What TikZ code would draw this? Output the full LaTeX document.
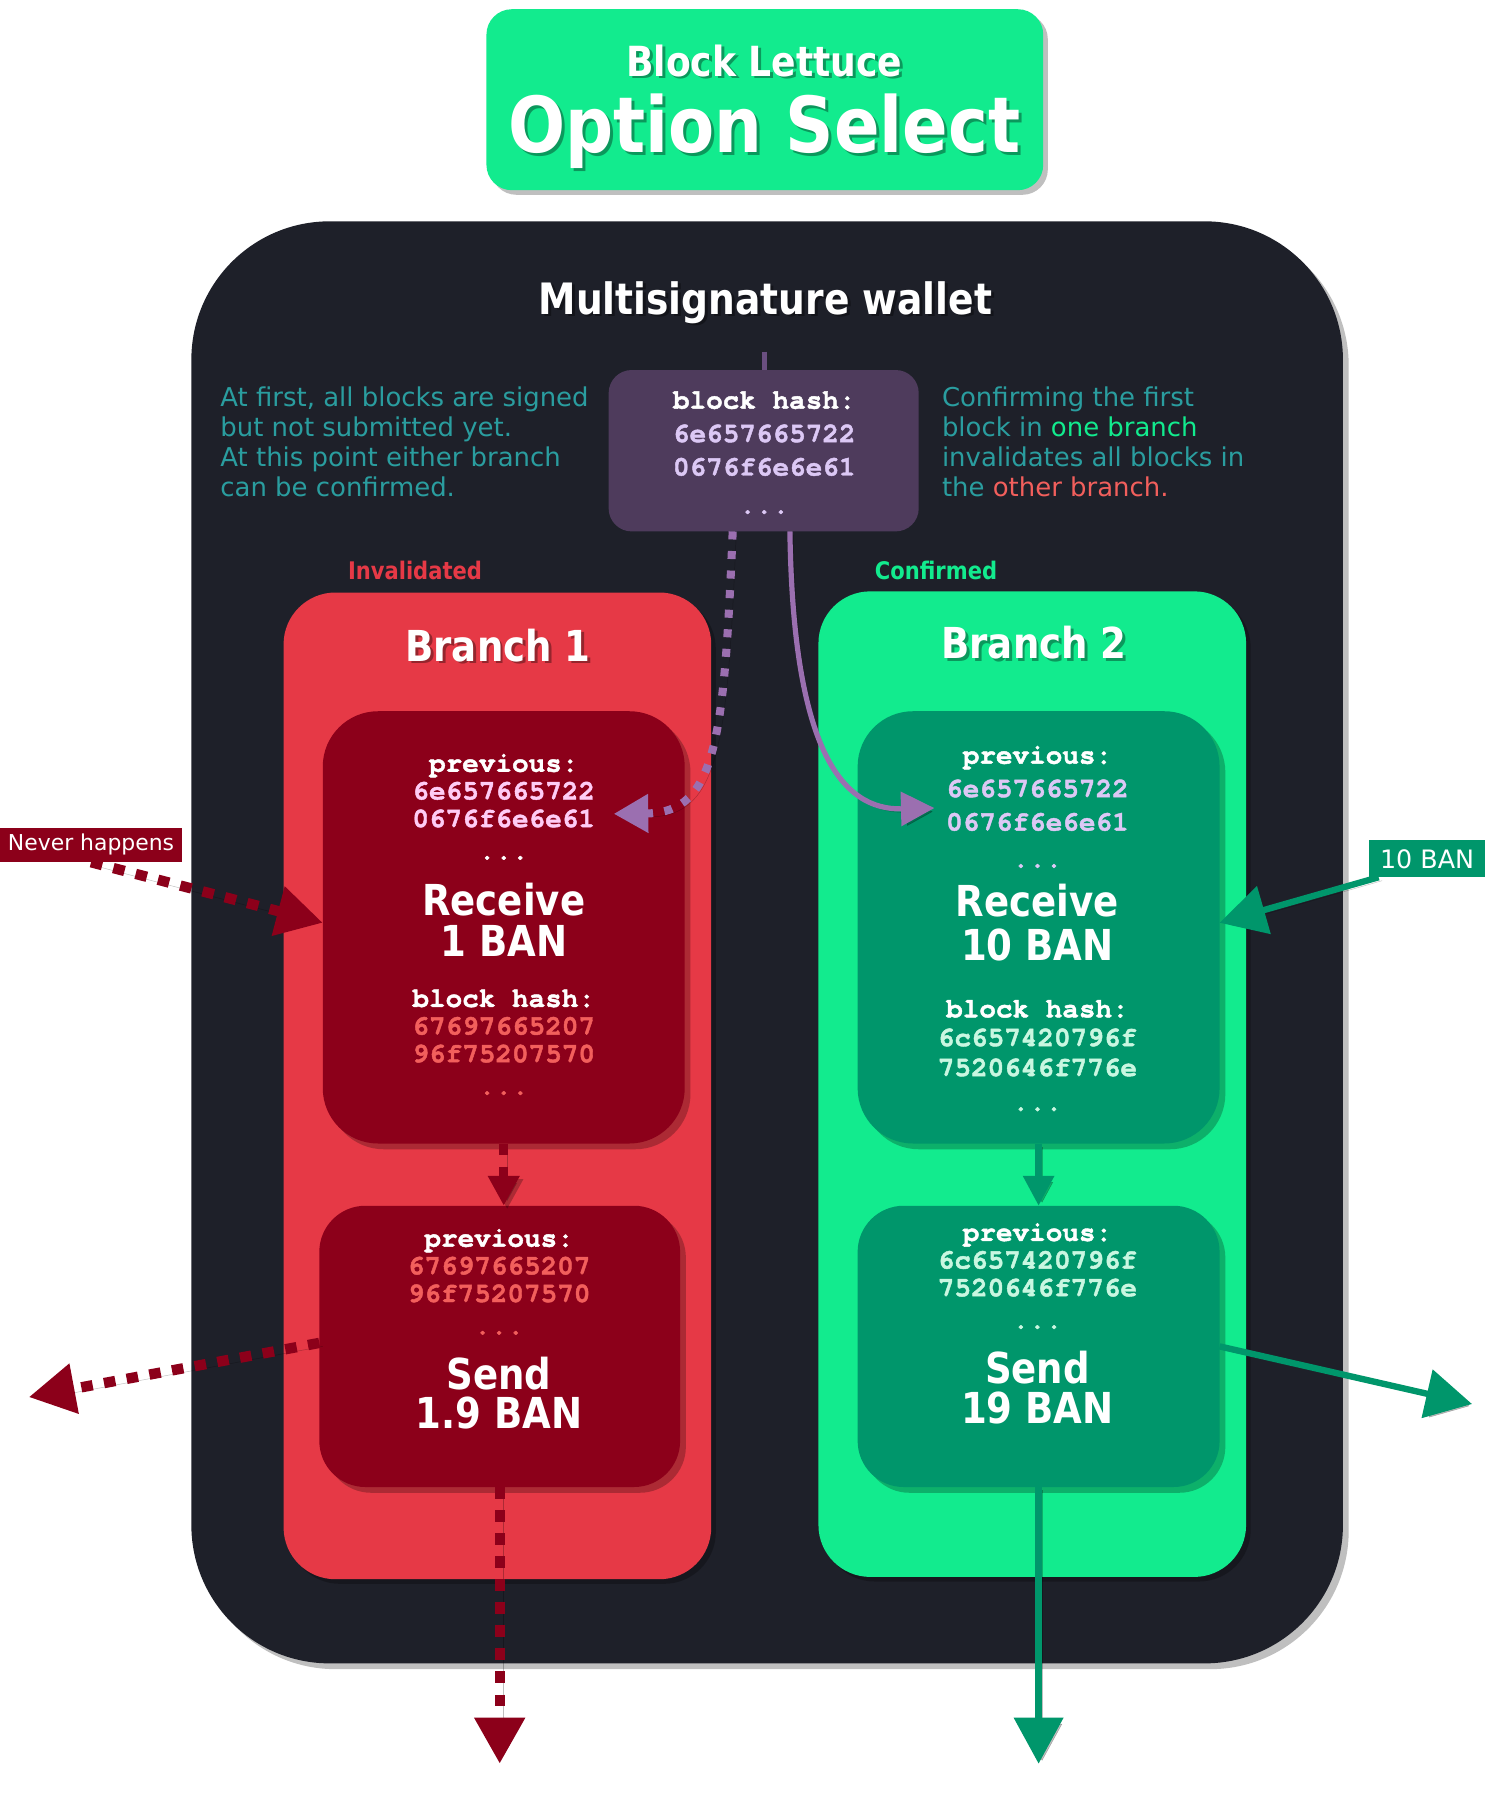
\documentclass[tikz,border=0pt]{standalone}
\usepackage{fontspec}
\usepackage{graphicx}
\setmainfont{DejaVu Sans}
\newfontfamily\monofont[BoldFont=texgyrecursor-bold.otf,BoldFeatures={FakeBold=1.6}]{texgyrecursor-regular.otf}
\usetikzlibrary{arrows.meta,shadows}
\definecolor{titlegreen}{HTML}{12EB8E}
\definecolor{panelc}{HTML}{1E2029}
\definecolor{tealtxt}{HTML}{2A9D9F}
\definecolor{hashpurple}{HTML}{4E3B5C}
\definecolor{lav}{HTML}{DCC8F5}
\definecolor{branchred}{HTML}{E63946}
\definecolor{blockred}{HTML}{8C001A}
\definecolor{pinktxt}{HTML}{FFCCF5}
\definecolor{salmon}{HTML}{F25F5C}
\definecolor{blockgreen}{HTML}{00966B}
\definecolor{lightg}{HTML}{C9F7E1}
\definecolor{arrpurple}{HTML}{9B6FB0}
\definecolor{stubc}{HTML}{6A4F80}
\newcommand\nar[1]{\scalebox{0.87}[1]{#1}}
\newcommand\shtext[4]{%
  \node[#2,text=black,text opacity=0.35,xshift=2.5pt,yshift=-2.5pt] (#1-s) at (#3) {#4};%
  \node[#2] (#1) at (#3) {#4};%
}
\begin{document}
\begin{tikzpicture}[x=1pt,y=-1pt,
  shd/.style={drop shadow={shadow xshift=#1,shadow yshift=-#1,opacity=0.25,fill=black}},
  shd/.default=4pt,
  boxn/.style={inner sep=0pt,outer sep=0pt,draw=none},
  wh/.style 2 args={minimum width=#1,minimum height=#2},
  mono/.style={font=\monofont\bfseries\fontsize{24}{28}\selectfont,inner sep=0pt,text height=15pt,text depth=4pt},
  bigt/.style={font=\bfseries\fontsize{37}{42}\selectfont,text=white,inner sep=0pt,text height=27pt,text depth=0pt},
  desc/.style={font=\fontsize{22.5}{26}\selectfont,text=tealtxt,inner sep=0pt,anchor=west,text height=16pt,text depth=0pt},
  cshad/.style={preaction={draw=black,opacity=0.25,transform canvas={shift={(3pt,-3pt)}}}},
  dotred/.style={draw=blockred,line width=9pt,dash pattern=on 10pt off 10pt,cshad},
  greensol/.style={draw=blockgreen,line width=5.5pt,cshad},
  purpdot/.style={draw=arrpurple,line width=7pt,dash pattern=on 7pt off 10pt,cshad},
  purpsol/.style={draw=arrpurple,line width=4.5pt,cshad},
  bigtip/.style={-{Triangle[length=40pt,width=42pt]}},
  tag/.style={inner sep=0pt,text=white}
]
\fill[white] (0,0) rectangle (1310,1565);
\useasboundingbox (0,0) rectangle (1310,1565);

% title
\node[boxn,wh={483pt}{157pt},fill=titlegreen,rounded corners=22pt,shd] (title) at (663.5,86.5) {};
\shtext{t1}{font=\bfseries\fontsize{36}{40}\selectfont,text=white,inner sep=0pt,text height=26pt,text depth=0pt}{663,53}{\nar{Block Lettuce}}
\shtext{t2}{font=\bfseries\fontsize{67}{72}\selectfont,text=white,inner sep=0pt,text height=49pt,text depth=0pt}{663,108}{\nar{Option Select}}

% panel
\node[boxn,wh={999pt}{1251pt},fill=panelc,rounded corners=120pt,shd=5pt] (panel) at (665.5,817.5) {};
\shtext{mw}{font=\bfseries\fontsize{37.5}{40}\selectfont,text=white,inner sep=0pt,text height=27pt,text depth=0pt}{664,259}{\nar{Multisignature wallet}}

% descriptions
\node[desc] (l1) at (191,345) {At first, all blocks are signed};
\node[desc] (l2) at (191,371) {but not submitted yet.};
\node[desc] (l3) at (191,397) {At this point either branch};
\node[desc] (l4) at (191,423) {can be confirmed.};
\node[desc] (r1) at (817,345) {Confirming the first};
\node[desc] (r2) at (817,371) {block in \textcolor{titlegreen}{one branch}};
\node[desc] (r3) at (817,397) {invalidates all blocks in};
\node[desc] (r4) at (817,423) {the \textcolor{salmon}{other branch.}};

% hash box
\coordinate (stub) at (663,305);
\draw[stubc,line width=4.5pt] (stub) -- (663,321);
\node[boxn,wh={269pt}{140pt},fill=hashpurple,rounded corners=20pt] (hash) at (662.5,391) {};
\node[mono,text=white] (hb1) at (663,349) {block hash:};
\node[mono,text=lav] (hb2) at (663,378) {6e657665722};
\node[mono,text=lav] (hb3) at (663,407) {0676f6e6e61};
\node[mono,text=lav] (hb4) at (663,440) {...};

% labels
\node[font=\bfseries\fontsize{21}{24}\selectfont,text=branchred,inner sep=0pt] (inv) at (360,495) {\nar{Invalidated}};
\node[font=\bfseries\fontsize{21}{24}\selectfont,text=titlegreen,inner sep=0pt] (conf) at (812,495) {\nar{Confirmed}};

% branches
\node[boxn,wh={371pt}{856pt},fill=branchred,rounded corners=45pt,shd] (br1) at (431.5,942) {};
\node[boxn,wh={371pt}{855pt},fill=titlegreen,rounded corners=45pt,shd] (br2) at (895.5,940.5) {};
\shtext{b1}{bigt}{432,560}{\nar{Branch 1}}
\shtext{b2}{bigt}{897,558}{\nar{Branch 2}}

% blocks
\node[boxn,wh={314pt}{375pt},fill=blockred,rounded corners=48pt,shd=5pt] (rc1) at (437,804.5) {};
\node[boxn,wh={313pt}{244pt},fill=blockred,rounded corners=40pt,shd=5pt] (sd1) at (433.5,1168) {};
\node[boxn,wh={314pt}{375pt},fill=blockgreen,rounded corners=48pt,shd=5pt] (rc2) at (901,804.5) {};
\node[boxn,wh={314pt}{244pt},fill=blockgreen,rounded corners=40pt,shd=5pt] (sd2) at (901,1168) {};

% receive 1
\node[mono,text=white] (rc1p) at (437,664) {previous:};
\node[mono,text=pinktxt] (rc1a) at (437,688) {6e657665722};
\node[mono,text=pinktxt] (rc1b) at (437,712) {0676f6e6e61};
\node[mono,text=white] (rc1d) at (437,740) {...};
\node[bigt] (rc1t) at (437,781) {\nar{Receive}};
\node[bigt] (rc1v) at (437,816) {\nar{1 BAN}};
\node[mono,text=white] (rc1h) at (437,868) {block hash:};
\node[mono,text=salmon] (rc1x) at (437,892) {67697665207};
\node[mono,text=salmon] (rc1y) at (437,916) {96f75207570};
\node[mono,text=salmon] (rc1z) at (437,944) {...};

% send 1
\node[mono,text=white] (sd1p) at (433,1076) {previous:};
\node[mono,text=salmon] (sd1a) at (433,1100) {67697665207};
\node[mono,text=salmon] (sd1b) at (433,1124) {96f75207570};
\node[mono,text=salmon] (sd1d) at (433,1152) {...};
\node[bigt] (sd1t) at (433,1192) {\nar{Send}};
\node[bigt] (sd1v) at (433,1226) {\nar{1.9 BAN}};

% receive 2
\node[mono,text=white] (rc2p) at (900,657) {previous:};
\node[mono,text=lav] (rc2a) at (900,686) {6e657665722};
\node[mono,text=lav] (rc2b) at (900,715) {0676f6e6e61};
\node[mono,text=lav] (rc2d) at (900,747) {...};
\node[bigt] (rc2t) at (900,782) {\nar{Receive}};
\node[bigt] (rc2v) at (900,820) {\nar{10 BAN}};
\node[mono,text=white] (rc2h) at (900,877) {block hash:};
\node[mono,text=lightg] (rc2x) at (900,902) {6c657420796f};
\node[mono,text=lightg] (rc2y) at (900,928) {7520646f776e};
\node[mono,text=lightg] (rc2z) at (900,958) {...};

% send 2
\node[mono,text=white] (sd2p) at (900,1071) {previous:};
\node[mono,text=lightg] (sd2a) at (900,1095) {6c657420796f};
\node[mono,text=lightg] (sd2b) at (900,1119) {7520646f776e};
\node[mono,text=lightg] (sd2d) at (900,1147) {...};
\node[bigt] (sd2t) at (900,1187) {\nar{Send}};
\node[bigt] (sd2v) at (900,1221) {\nar{19 BAN}};

% connectors
\draw[purpdot,-{Triangle[length=30pt,width=32pt]}] (hash.-111) .. controls (628,640) and (622,705) .. ([xshift=16pt,yshift=6pt]rc1b.east);
\draw[purpsol,-{Triangle[length=29pt,width=29pt]}] (hash.-72) .. controls (688,650) and (730,703) .. ([xshift=-10pt,yshift=14pt]rc2b.west);
\draw[dotred,line width=8pt,-{Triangle[length=26pt,width=26pt]}] (rc1.south) -- (rc1.south |- sd1.north);
\draw[greensol,-{Triangle[length=26pt,width=26pt]}] (rc2.south) -- (sd2.north);

\coordinate (nevc) at (79,733);
\coordinate (tenc) at (1238,745);
\draw[dotred,bigtip] ([yshift=-15pt]nevc) -- ([yshift=4pt]rc1.west);
\draw[greensol,bigtip] ([xshift=-42pt,yshift=-16pt]tenc) -- ([yshift=4pt]rc2.east);
\node[tag,fill=blockred,font=\fontsize{19}{22}\selectfont,wh={158pt}{30pt}] (never) at (nevc) {Never happens};
\node[tag,fill=blockgreen,font=\fontsize{22}{26}\selectfont,wh={100pt}{32pt}] (ten) at (tenc) {10 BAN};

\coordinate (o1) at (25,1212);
\coordinate (o2) at (1277,1218);
\coordinate (o3) at (433.5,1530);
\coordinate (o4) at (901,1530);
\draw[dotred,bigtip] ([yshift=3pt]sd1.west) -- (o1);
\draw[greensol,bigtip] (sd2.east) -- (o2);
\draw[dotred,bigtip] (sd1.south) -- (o3);
\draw[greensol,bigtip] (sd2.south) -- (o4);
\end{tikzpicture}
\end{document}
